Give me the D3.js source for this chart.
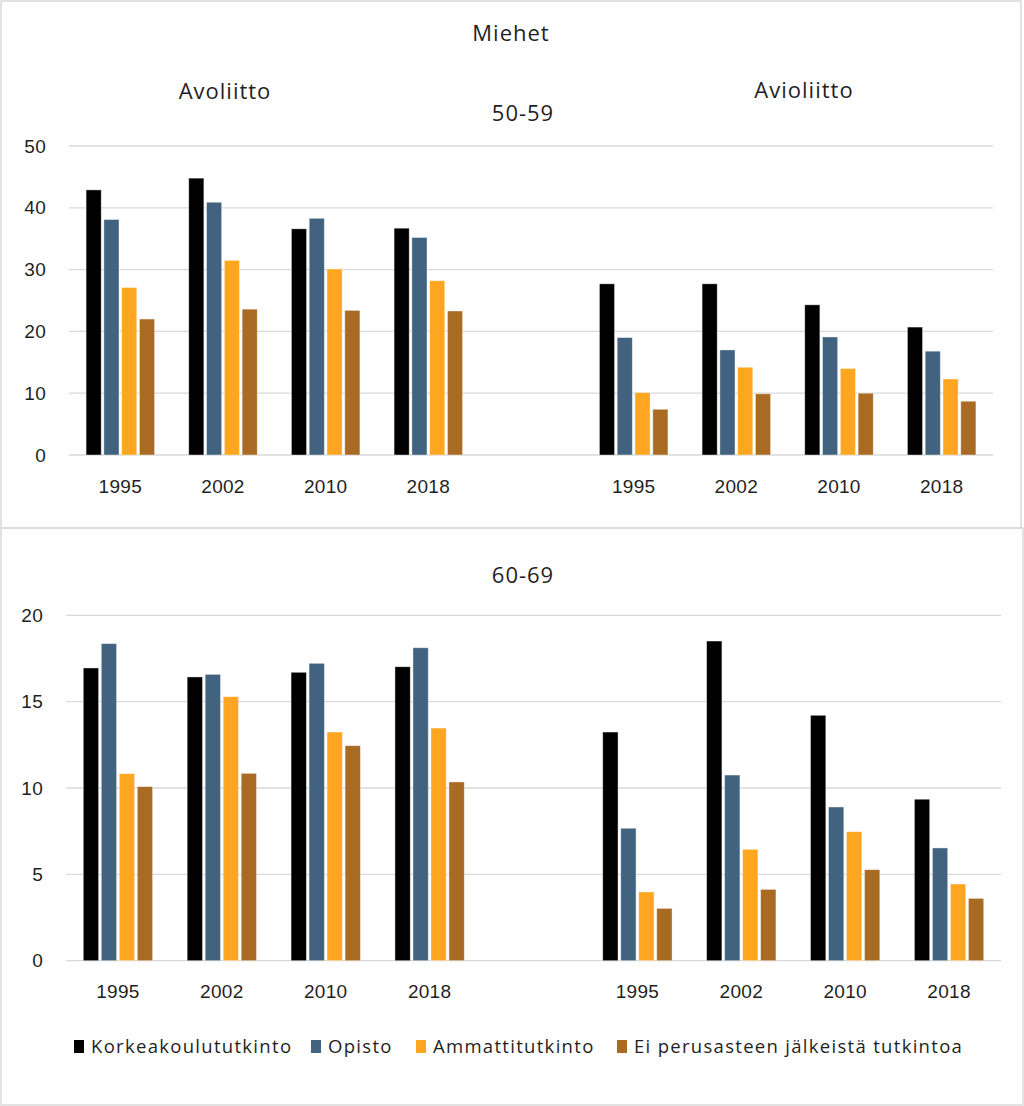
<!DOCTYPE html>
<html>
<head>
<meta charset="utf-8">
<script src="https://cdn.jsdelivr.net/npm/d3@7"></script>
<style>
  body { margin: 0; background: #ffffff; }
  svg { display: block; font-family: "Open Sans", "Noto Sans", sans-serif; }
</style>
</head>
<body>
<script>
// ---- DATA ----
const categories = ["1995", "2002", "2010", "2018", "", "1995", "2002", "2010", "2018"];
const seriesNames = ["Korkeakoulututkinto", "Opisto", "Ammattitutkinto", "Ei perusasteen jälkeistä tutkintoa"];
const seriesColors = ["#000000", "#42637F", "#FFA620", "#A96A23"];

// 50-59
const top_korkea  = [42.9, 44.8, 36.6, 36.7, null, 27.7, 27.7, 24.3, 20.7];
const top_opisto  = [38.1, 40.9, 38.3, 35.2, null, 19.0, 17.0, 19.1, 16.8];
const top_ammatti = [27.1, 31.5, 30.1, 28.2, null, 10.1, 14.2, 14.0, 12.3];
const top_ei      = [22.0, 23.6, 23.4, 23.3, null, 7.4, 9.9, 10.0, 8.7];
const topTicks = [0, 10, 20, 30, 40, 50];

// 60-69
const bot_korkea  = [16.95, 16.43, 16.70, 17.02, null, 13.24, 18.51, 14.21, 9.35];
const bot_opisto  = [18.36, 16.58, 17.22, 18.12, null, 7.67, 10.75, 8.90, 6.53];
const bot_ammatti = [10.83, 15.29, 13.24, 13.47, null, 3.98, 6.45, 7.47, 4.44];
const bot_ei      = [10.08, 10.85, 12.45, 10.35, null, 3.03, 4.13, 5.27, 3.61];
const botTicks = [0, 5, 10, 15, 20];

const W = 1024, H = 1106;
const textColor = "#1f1f1f";
const gridColor = "#d9d9d9";

const svg = d3.select("body").append("svg").attr("width", W).attr("height", H);

// panel borders
svg.append("rect").attr("x", 1).attr("y", 1).attr("width", 1020).attr("height", 527)
  .attr("fill", "none").attr("stroke", "#d9d9d9").attr("stroke-width", 1.5);
svg.append("rect").attr("x", 1).attr("y", 528).attr("width", 1022).attr("height", 577)
  .attr("fill", "none").attr("stroke", "#d9d9d9").attr("stroke-width", 1.5);

function drawChart(cfg) {
  const g = svg.append("g");
  const idx = categories.map((c, i) => i);
  const x0 = d3.scaleBand().domain(idx).range([cfg.x0, cfg.x1]).paddingInner(0).paddingOuter(0);
  const x1 = d3.scaleBand().domain(d3.range(seriesNames.length))
    .range([0, x0.bandwidth()]).paddingInner(0.15).paddingOuter(0.96);
  const y = d3.scaleLinear().domain([0, cfg.max]).range([cfg.yBottom, cfg.yTop]);

  // gridlines
  g.append("g").selectAll("line").data(cfg.ticks).join("line")
    .attr("x1", cfg.x0).attr("x2", cfg.x1)
    .attr("y1", d => y(d)).attr("y2", d => y(d))
    .attr("stroke", gridColor).attr("stroke-width", 1.3);

  // y axis
  const ya = g.append("g").attr("transform", `translate(${cfg.x0},0)`)
    .call(d3.axisLeft(y).tickValues(cfg.ticks).tickSize(0).tickPadding(23));
  ya.select(".domain").remove();
  ya.selectAll("text").attr("fill", textColor).style("font-size", "19px").style("letter-spacing", "0.3px");

  // x axis
  const xa = g.append("g").attr("transform", `translate(0,${cfg.yBottom})`)
    .call(d3.axisBottom(x0).tickFormat(i => categories[i]).tickSize(0).tickPadding(cfg.xPad));
  xa.select(".domain").remove();
  xa.selectAll("text").attr("fill", textColor).style("font-size", "19px").style("letter-spacing", "0.3px");

  // bars
  cfg.data.forEach((vals, s) => {
    g.append("g").selectAll("rect")
      .data(vals.map((v, i) => ({ i, v })).filter(d => d.v !== null))
      .join("rect")
      .attr("x", d => x0(d.i) + x1(s))
      .attr("width", x1.bandwidth())
      .attr("y", d => y(d.v))
      .attr("height", d => y(0) - y(d.v))
      .attr("fill", seriesColors[s])
      .attr("stroke", "#ffffff").attr("stroke-opacity", 0.5).attr("stroke-width", 0.8);
  });
}

drawChart({
  x0: 69, x1: 993, yBottom: 455, yTop: 146, max: 50, ticks: topTicks, xPad: 25,
  data: [top_korkea, top_opisto, top_ammatti, top_ei]
});
drawChart({
  x0: 66, x1: 1001, yBottom: 960.7, yTop: 615.3, max: 20, ticks: botTicks, xPad: 24,
  data: [bot_korkea, bot_opisto, bot_ammatti, bot_ei]
});

// titles
const titles = [
  { t: "Miehet", x: 511, y: 41 },
  { t: "Avoliitto", x: 225, y: 99 },
  { t: "Avioliitto", x: 804, y: 98 },
  { t: "50-59", x: 523, y: 121 },
  { t: "60-69", x: 523, y: 583 }
];
svg.append("g").selectAll("text").data(titles).join("text")
  .attr("x", d => d.x).attr("y", d => d.y).attr("text-anchor", "middle")
  .attr("fill", textColor).style("font-size", "22px").style("letter-spacing", "1px")
  .text(d => d.t);

// legend
const legend = svg.append("g").attr("transform", "translate(0,1047)");
const legendX = [74, 311, 416, 617];
const items = legend.selectAll("g").data(seriesNames).join("g")
  .attr("transform", (d, i) => `translate(${legendX[i]},0)`);
items.append("rect").attr("x", 0).attr("y", -7).attr("width", 10).attr("height", 13)
  .attr("fill", (d, i) => seriesColors[i]);
items.append("text").attr("x", 17).attr("y", 0).attr("dy", "0.35em")
  .attr("fill", textColor).style("font-size", "18.5px").style("letter-spacing", "1.3px")
  .text(d => d);
</script>
</body>
</html>
